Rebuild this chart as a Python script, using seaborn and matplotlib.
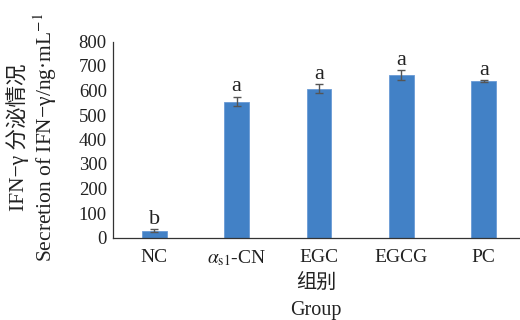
import matplotlib
matplotlib.use('Agg')
import matplotlib.pyplot as plt
import seaborn as sns
import pandas as pd

# ── Данные ───────────────────────────────────────────────────────────────────
groups  = ['NC', r'$\alpha_{\rm s1}$-CN', 'EGC', 'EGCG', 'PC']
values  = [28, 555, 607, 663, 637]
errors  = [6, 20, 18, 19, 4]
letters = ['b', 'a', 'a', 'a', 'a']

BAR_COLOR = '#4281c6'
SERIF = ['Liberation Serif', 'Noto Sans CJK SC']

sns.set_style('white')
plt.rcParams['font.family'] = SERIF
plt.rcParams['mathtext.fontset'] = 'stix'

df = pd.DataFrame({'group': groups, 'value': values})

fig = plt.figure(figsize=(5.2, 3.2), dpi=100)
ax = fig.add_axes([113 / 520, 1 - 237.5 / 320, 1 - 113 / 520, 196 / 320])

sns.barplot(data=df, x='group', y='value', color=BAR_COLOR, width=0.3,
            saturation=1, edgecolor='#6a9bd6', linewidth=0.6, ax=ax)

xs = [p.get_x() + p.get_width() / 2 for p in ax.patches]
ax.errorbar(xs, values, yerr=errors, fmt='none', ecolor='#555555',
            elinewidth=1.0, capsize=3, capthick=1.0)

for x, v, e, t in zip(xs, values, errors, letters):
    ax.annotate(t, (x, v + e), xytext=(0, 4), textcoords='offset points',
                ha='center', va='baseline', fontsize=16, color='#222222')

ax.set_ylim(0, 800)
ax.set_xlim(-0.5, 4.44)
ax.set_yticks(range(0, 801, 100))
ax.tick_params(axis='y', direction='in', length=3, width=0.8, pad=4.5,
               labelsize=13.5, colors='#222222')
ax.tick_params(axis='x', length=0, pad=8, labelsize=14, colors='#222222')
ax.set_xlabel('')
ax.set_ylabel('')

sns.despine(ax=ax, top=True, right=True)
for s in ['left', 'bottom']:
    ax.spines[s].set_color('#333333')
    ax.spines[s].set_linewidth(0.9)

# подписи осей
fig.text(18 / 520, 1 - 137 / 320, 'IFN−γ 分泌情况', rotation=90,
         ha='center', va='center', fontsize=15.5, color='#222222')
fig.text(45 / 520, 1 - 137 / 320, 'Secretion of IFN−γ/ng·mL$^{-1}$',
         rotation=90, ha='center', va='center', fontsize=15.5, color='#222222')
fig.text(316 / 520, 1 - 283 / 320, '组别', ha='center', va='center',
         fontsize=14.5, color='#222222')
fig.text(316 / 520, 1 - 311 / 320, 'Group', ha='center', va='center',
         fontsize=14.5, color='#222222')

plt.savefig('out.png', dpi=100)
